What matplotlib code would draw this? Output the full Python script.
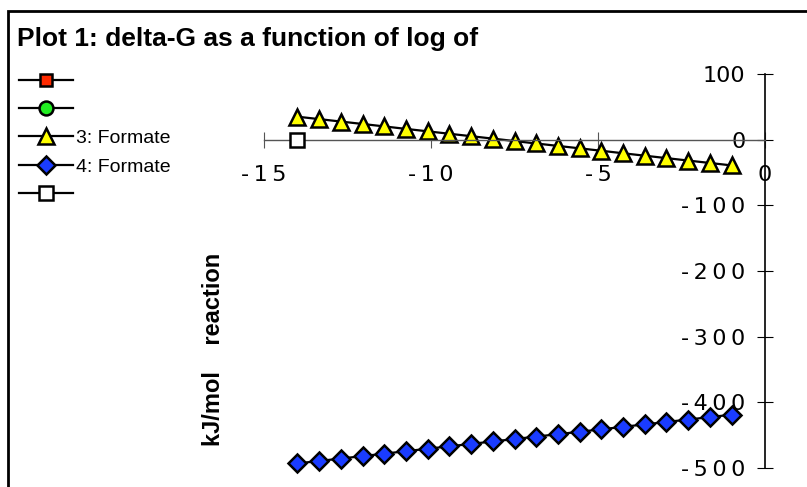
import matplotlib.pyplot as plt
from matplotlib.patches import Rectangle

# log concentration (x) and delta-G (kJ/mol)
log_conc = [-14.0, -13.35, -12.7, -12.05, -11.4, -10.75, -10.1, -9.45, -8.8, -8.15, -7.5,
            -6.85, -6.2, -5.55, -4.9, -4.25, -3.6, -2.95, -2.3, -1.65, -1.0]
formate_3 = [35.0, 31.3, 27.6, 23.9, 20.2, 16.4, 12.7, 9.0, 5.3, 1.6, -2.1,
             -5.8, -9.5, -13.2, -16.9, -20.7, -24.4, -28.1, -31.8, -35.5, -39.2]
formate_4 = [-493.0, -489.3, -485.6, -481.9, -478.2, -474.4, -470.7, -467.0, -463.3, -459.6, -455.9,
             -452.2, -448.5, -444.8, -441.1, -437.3, -433.6, -429.9, -426.2, -422.5, -418.8]
series5_x = [-14.0]
series5_y = [0.0]

x_ticks = [-15, -10, -5, 0]
x_tick_labels = ["-\u20091\u20095", "-\u20091\u20090", "-\u20095", "0"]
y_ticks = [100, 0, -100, -200, -300, -400, -500]
y_tick_labels = ["100", "0", "-\u20091\u20090\u20090", "-\u20092\u20090\u20090",
                 "-\u20093\u20090\u20090", "-\u20094\u20090\u20090", "-\u20095\u20090\u20090"]

W, H = 807, 487
fig = plt.figure(figsize=(W / 100, H / 100), dpi=100)
ax = fig.add_axes([264 / W, 1 - 468 / H, (765 - 264) / W, (468 - 74) / H])

common = dict(color="black", linewidth=1.6, markeredgecolor="black", markeredgewidth=1.8)
l1, = ax.plot([], [], marker="s", markersize=9, markerfacecolor="#ff2a00", **common)
l2, = ax.plot([], [], marker="o", markersize=10, markerfacecolor="#22ee22", **common)
l3, = ax.plot(log_conc, formate_3, marker="^", markersize=11, markerfacecolor="#ffff00",
              clip_on=False, **common)
l4, = ax.plot(log_conc, formate_4, marker="D", markersize=9, markerfacecolor="#1a3cff",
              clip_on=False, **common)
l5, = ax.plot(series5_x, series5_y, marker="s", markersize=10, markerfacecolor="white",
              clip_on=False, zorder=5, **common)

ax.set_xlim(-15, 0)
ax.set_ylim(-500, 100)
ax.spines["top"].set_visible(False)
ax.spines["right"].set_visible(False)
ax.spines["left"].set_position(("data", 0))
ax.spines["bottom"].set_position(("data", 0))
ax.spines["left"].set_linewidth(1.2)
ax.spines["bottom"].set_color("#555555")
ax.spines["bottom"].set_linewidth(1.0)

ax.set_xticks(x_ticks)
ax.set_xticklabels(x_tick_labels)
ax.set_yticks(y_ticks)
ax.set_yticklabels(y_tick_labels)
ax.tick_params(axis="both", direction="inout", length=12, labelsize=16)
ax.tick_params(axis="x", pad=12, color="#555555")
ax.tick_params(axis="y", pad=8)
ax.patch.set_alpha(0)

fig.text(17 / W, 1 - 39 / H, "Plot 1: delta-G as a function of log of",
         fontsize=19, fontweight="bold", family="Liberation Sans", va="center", ha="left")
fig.text(213 / W, 1 - 349 / H, "kJ/mol    reaction", rotation=90,
         fontsize=17, fontweight="bold", family="Liberation Sans", va="center", ha="center")

fig.legend([l1, l2, l3, l4, l5], ["", "", "3: Formate", "4: Formate", ""],
           loc="upper left", bbox_to_anchor=(19 / W, 1 - 73 / H), frameon=False,
           borderaxespad=0, borderpad=0, handlelength=2.8, handletextpad=0.15,
           labelspacing=0.55, prop={"family": "Liberation Sans", "size": 14})

fig.patches.append(Rectangle((8 / W, -0.1), 1.2, 1.1 - 11 / H, transform=fig.transFigure,
                             fill=False, edgecolor="black", linewidth=2))

fig.savefig("out.png", dpi=100)
